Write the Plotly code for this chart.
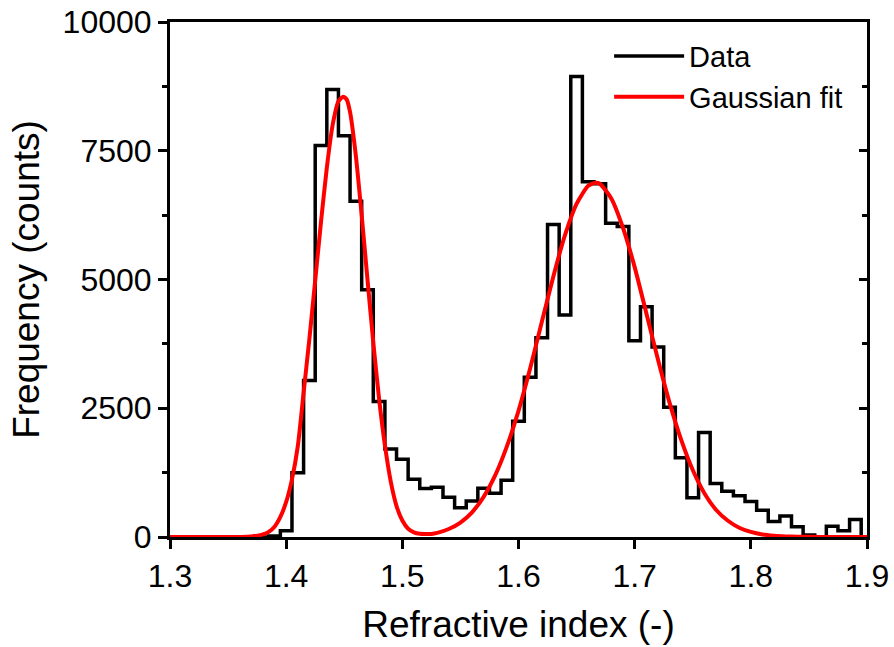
import plotly.graph_objects as go

# Histogram data (bin centers, counts), bin width 0.01
bin_centers = [1.39, 1.40, 1.41, 1.42, 1.43, 1.44, 1.45, 1.46, 1.47, 1.48,
               1.49, 1.50, 1.51, 1.52, 1.53, 1.54, 1.55, 1.56, 1.57, 1.58,
               1.59, 1.60, 1.61, 1.62, 1.63, 1.64, 1.65, 1.66, 1.67, 1.68,
               1.69, 1.70, 1.71, 1.72, 1.73, 1.74, 1.75, 1.76, 1.77, 1.78,
               1.79, 1.80, 1.81, 1.82, 1.83, 1.84, 1.85, 1.86, 1.87, 1.88, 1.89]
counts = [20, 120, 1250, 3040, 7600, 8690, 7790, 6520, 4800, 2630,
          1710, 1510, 1120, 940, 965, 770, 570, 700, 945, 850,
          1100, 2250, 3100, 3870, 6070, 4310, 8940, 6900, 6860, 6090,
          6030, 3810, 4470, 3690, 2520, 1540, 760, 2030, 1040, 890,
          800, 690, 520, 300, 410, 200, 40, 0, 210, 120, 340]
bin_width = 0.01

# Gaussian fit curve
fit_x = [1.30, 1.35, 1.36, 1.37, 1.38, 1.385, 1.39, 1.395, 1.40, 1.405,
         1.41, 1.415, 1.42, 1.425, 1.43, 1.435, 1.44, 1.445, 1.449, 1.452,
         1.455, 1.46, 1.465, 1.47, 1.475, 1.48, 1.485, 1.49, 1.495, 1.50,
         1.505, 1.51, 1.515, 1.52, 1.525, 1.53, 1.54, 1.55, 1.56, 1.57,
         1.58, 1.59, 1.60, 1.61, 1.62, 1.63, 1.64, 1.65, 1.66, 1.666,
         1.67, 1.68, 1.69, 1.70, 1.71, 1.72, 1.73, 1.74, 1.75, 1.76,
         1.77, 1.78, 1.79, 1.80, 1.81, 1.82, 1.83, 1.84, 1.86, 1.90]
fit_y = [0, 0, 2, 10, 50, 100, 200, 390, 680, 1120,
         1760, 2800, 3850, 4980, 6120, 7170, 8000, 8460, 8550, 8500,
         8250, 7400, 6250, 5000, 3780, 2680, 1780, 1080, 600, 320,
         160, 90, 62, 58, 60, 80, 155, 280, 480, 780,
         1200, 1760, 2450, 3270, 4170, 5060, 5860, 6470, 6820, 6880,
         6860, 6570, 6000, 5240, 4350, 3450, 2610, 1890, 1300, 850,
         530, 320, 180, 100, 50, 25, 12, 5, 1, 0]

x_range = [1.3, 1.9]
y_range = [0, 10000]
x_ticks = [1.3, 1.4, 1.5, 1.6, 1.7, 1.8, 1.9]
x_ticklabels = ["1.3", "1.4", "1.5", "1.6", "1.7", "1.8", "1.9"]
y_ticks = [0, 2500, 5000, 7500, 10000]
y_ticklabels = ["0", "2500", "5000", "7500", "10000"]

# step outline from bin edges
step_x = [c - bin_width / 2 for c in bin_centers] + [bin_centers[-1] + bin_width / 2]
step_y = counts + [0]

FONT = "Liberation Sans, Arial, sans-serif"

fig = go.Figure()
fig.add_trace(go.Scatter(
    x=[x_range[0]] + step_x, y=[0] + step_y, mode="lines", name="Data",
    line=dict(color="black", width=3.5, shape="hv"),
))
fig.add_trace(go.Scatter(
    x=fit_x, y=fit_y, mode="lines", name="Gaussian fit",
    line=dict(color="#ff0000", width=4, shape="spline", smoothing=0.6),
))
# invisible trace for mirrored right axis ticks
fig.add_trace(go.Scatter(x=[x_range[0]], y=[0], yaxis="y2", mode="markers",
                         marker=dict(opacity=0), showlegend=False, hoverinfo="skip"))

fig.update_layout(
    width=894, height=647,
    margin=dict(l=170, r=27, t=22, b=110, autoexpand=False),
    paper_bgcolor="white", plot_bgcolor="white",
    font=dict(family=FONT, color="black", size=32),
    showlegend=True,
    legend=dict(x=0.63, y=0.983, xanchor="left", yanchor="top",
                bgcolor="rgba(0,0,0,0)", borderwidth=0,
                font=dict(family=FONT, size=29, color="black"),
                tracegroupgap=0, itemwidth=70),
    xaxis=dict(
        range=x_range, tickmode="array", tickvals=x_ticks, ticktext=x_ticklabels,
        showgrid=False, zeroline=False, showline=True, linecolor="black", linewidth=3,
        mirror=True, ticks="outside", ticklen=9, tickwidth=3, tickcolor="black",
        tickfont=dict(family=FONT, size=32), automargin=False,
        title=dict(text="Refractive index (-)", font=dict(family=FONT, size=37), standoff=18),
    ),
    yaxis=dict(
        range=y_range, tickmode="array", tickvals=y_ticks, ticktext=y_ticklabels,
        showgrid=False, zeroline=False, showline=True, linecolor="black", linewidth=3,
        mirror=True, ticks="outside", ticklen=9, tickwidth=3, tickcolor="black",
        minor=dict(dtick=1250, tick0=0, ticks="outside", ticklen=5, tickwidth=3, tickcolor="black"),
        tickfont=dict(family=FONT, size=32), automargin=False,
        title=dict(text="Frequency (counts)", font=dict(family=FONT, size=37), standoff=12),
    ),
    yaxis2=dict(
        range=y_range, overlaying="y", side="right", tickmode="array", tickvals=y_ticks,
        showticklabels=False, showgrid=False, zeroline=False, showline=False,
        ticks="inside", ticklen=8, tickwidth=3, tickcolor="black", automargin=False,
        minor=dict(dtick=1250, tick0=0, ticks="inside", ticklen=5, tickwidth=3, tickcolor="black"),
    ),
)

fig.write_html(
    "out.html",
    config={"displayModeBar": False},
    post_script="document.body.style.margin='0';document.body.style.overflow='hidden';",
)
